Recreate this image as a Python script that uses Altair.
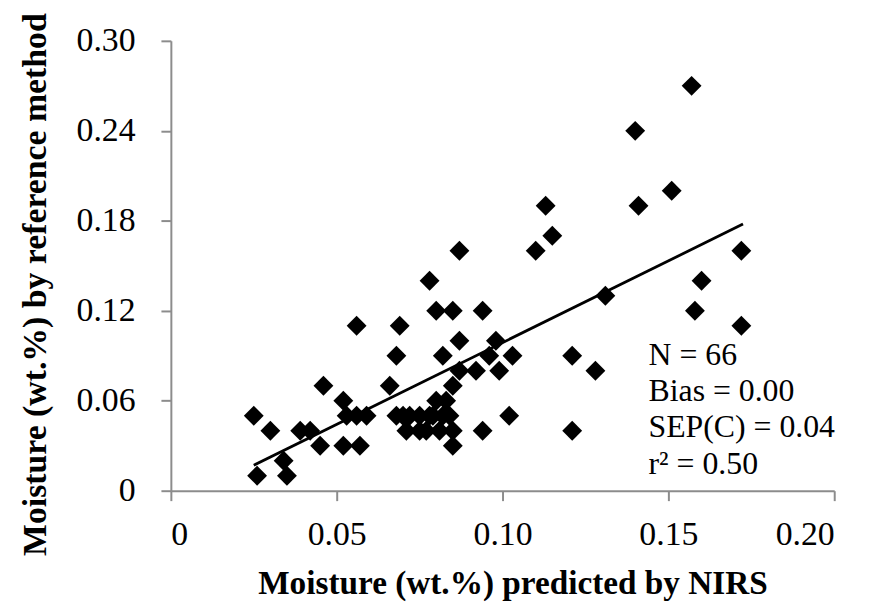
import altair as alt
import pandas as pd

# predicted (x) vs reference (y) moisture, wt.%
nirs = [0.025, 0.026, 0.030, 0.034, 0.035, 0.039, 0.042, 0.045, 0.046, 0.052,
        0.052, 0.053, 0.056, 0.056, 0.057, 0.059, 0.066, 0.068, 0.069, 0.068,
        0.071, 0.072, 0.075, 0.075, 0.078, 0.080, 0.079, 0.080, 0.082, 0.084,
        0.085, 0.085, 0.085, 0.085, 0.087, 0.087, 0.094, 0.094, 0.092, 0.096,
        0.098, 0.099, 0.103, 0.102, 0.087, 0.110, 0.113, 0.115, 0.121, 0.121,
        0.128, 0.131, 0.140, 0.141, 0.151, 0.157, 0.158, 0.160, 0.172, 0.172,
        0.082, 0.077, 0.083, 0.070, 0.081, 0.078]
reference = [0.05, 0.01, 0.04, 0.02, 0.01, 0.04, 0.04, 0.03, 0.07, 0.06,
             0.03, 0.05, 0.11, 0.05, 0.03, 0.05, 0.07, 0.09, 0.11, 0.05,
             0.04, 0.05, 0.04, 0.05, 0.14, 0.06, 0.05, 0.12, 0.09, 0.05,
             0.04, 0.03, 0.12, 0.07, 0.10, 0.08, 0.12, 0.04, 0.08, 0.09,
             0.10, 0.08, 0.09, 0.05, 0.16, 0.16, 0.19, 0.17, 0.09, 0.04,
             0.08, 0.13, 0.24, 0.19, 0.20, 0.27, 0.12, 0.14, 0.16, 0.11,
             0.05, 0.04, 0.06, 0.05, 0.04, 0.05]

# fitted regression line end points
fit_x = [0.025, 0.1725]
fit_y = [0.017, 0.1778]

stats_lines = ["N = 66", "Bias = 0.00", "SEP(C) = 0.04", "r\u00b2 = 0.50"]

x_ticks = [0, 0.05, 0.10, 0.15, 0.20]
y_ticks = [0, 0.06, 0.12, 0.18, 0.24, 0.30]

pts = pd.DataFrame({"x": nirs, "y": reference})
fit = pd.DataFrame({"x": fit_x, "y": fit_y})

FONT = "Liberation Serif, 'Times New Roman', DejaVu Serif, serif"
AXIS_GRAY = "#8c8c8c"
label_expr = "datum.value == 0 ? '0' : format(datum.value, '.2f')"

x_enc = alt.X(
    "x:Q",
    scale=alt.Scale(domain=[0, 0.20], nice=False),
    axis=alt.Axis(
        title="Moisture (wt.%) predicted by NIRS",
        values=x_ticks,
        labelExpr=label_expr,
        grid=False,
        domainColor=AXIS_GRAY,
        domainWidth=2,
        tickColor=AXIS_GRAY,
        tickWidth=2,
        tickSize=10,
        labelPadding=17,
        labelFont=FONT,
        labelFontSize=34,
        labelColor="black",
        titleFont=FONT,
        titleFontSize=33.5,
        titleFontWeight="bold",
        titleColor="black",
        titlePadding=17,
        titleX=344,
    ),
)
y_enc = alt.Y(
    "y:Q",
    scale=alt.Scale(domain=[0, 0.30], nice=False),
    axis=alt.Axis(
        title="Moisture (wt.%) by reference method",
        values=y_ticks,
        labelExpr=label_expr,
        grid=False,
        domainColor=AXIS_GRAY,
        domainWidth=2,
        tickColor=AXIS_GRAY,
        tickWidth=2,
        tickSize=10,
        labelPadding=26,
        labelFont=FONT,
        labelFontSize=34,
        labelColor="black",
        titleFont=FONT,
        titleFontSize=34,
        titleFontWeight="bold",
        titleColor="black",
        titlePadding=24,
        titleY=245,
    ),
)

points = alt.Chart(pts).mark_point(
    shape="diamond", filled=True, size=400, color="black", opacity=1
).encode(x=x_enc, y=y_enc)

line = alt.Chart(fit).mark_line(color="black", strokeWidth=2.8).encode(
    x="x:Q", y="y:Q"
)

stats = alt.Chart(pd.DataFrame({"t": [stats_lines]})).mark_text(
    font=FONT,
    fontSize=32,
    align="left",
    baseline="alphabetic",
    lineHeight=36.7,
    color="black",
).encode(text="t", x=alt.value(481), y=alt.value(326))

chart = (
    alt.layer(points, line, stats)
    .properties(
        width=668,
        height=453,
        autosize=alt.AutoSizeParams(type="none"),
        padding={"left": 164, "top": 31, "right": 32, "bottom": 110},
        background="white",
    )
    .configure_view(stroke=None)
)

chart.save("out.html", embed_options={"renderer": "svg", "actions": False})
